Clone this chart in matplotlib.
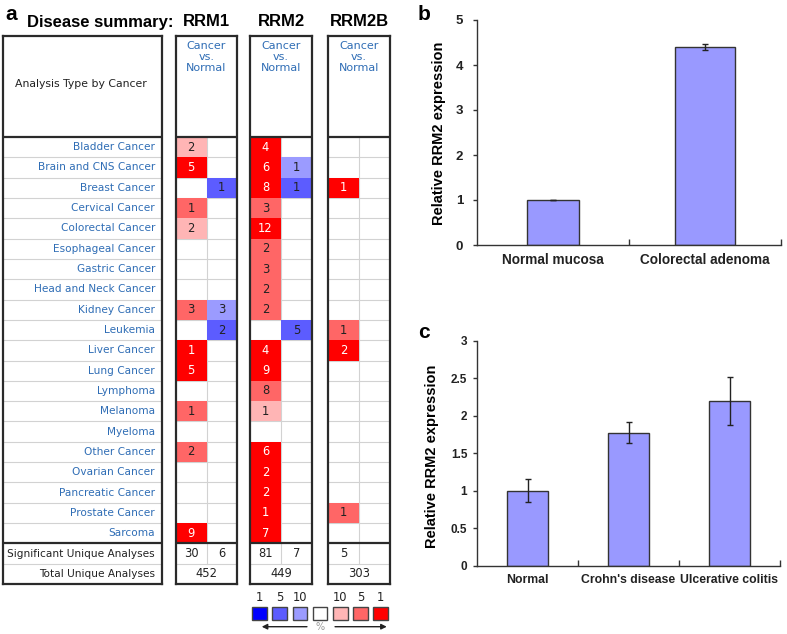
import matplotlib
matplotlib.use("Agg")
import matplotlib.pyplot as plt
from matplotlib.patches import Rectangle

# ---------------- data ----------------
cancers = ["Bladder Cancer", "Brain and CNS Cancer", "Breast Cancer", "Cervical Cancer",
           "Colorectal Cancer", "Esophageal Cancer", "Gastric Cancer", "Head and Neck Cancer",
           "Kidney Cancer", "Leukemia", "Liver Cancer", "Lung Cancer", "Lymphoma", "Melanoma",
           "Myeloma", "Other Cancer", "Ovarian Cancer", "Pancreatic Cancer", "Prostate Cancer",
           "Sarcoma"]
genes = ["RRM1", "RRM2", "RRM2B"]

# number of analyses (0 = none) and gene rank percentile (1, 5, 10) per cancer
rrm1_up = [2, 5, 0, 1, 2, 0, 0, 0, 3, 0, 1, 5, 0, 1, 0, 2, 0, 0, 0, 9]
rrm1_up_rank = [10, 1, 0, 5, 10, 0, 0, 0, 5, 0, 1, 1, 0, 5, 0, 5, 0, 0, 0, 1]
rrm1_down = [0, 0, 1, 0, 0, 0, 0, 0, 3, 2, 0, 0, 0, 0, 0, 0, 0, 0, 0, 0]
rrm1_down_rank = [0, 0, 5, 0, 0, 0, 0, 0, 10, 5, 0, 0, 0, 0, 0, 0, 0, 0, 0, 0]

rrm2_up = [4, 6, 8, 3, 12, 2, 3, 2, 2, 0, 4, 9, 8, 1, 0, 6, 2, 2, 1, 7]
rrm2_up_rank = [1, 1, 1, 5, 1, 5, 5, 5, 5, 0, 1, 1, 5, 10, 0, 1, 1, 1, 1, 1]
rrm2_down = [0, 1, 1, 0, 0, 0, 0, 0, 0, 5, 0, 0, 0, 0, 0, 0, 0, 0, 0, 0]
rrm2_down_rank = [0, 10, 5, 0, 0, 0, 0, 0, 0, 5, 0, 0, 0, 0, 0, 0, 0, 0, 0, 0]

rrm2b_up = [0, 0, 1, 0, 0, 0, 0, 0, 0, 1, 2, 0, 0, 0, 0, 0, 0, 0, 1, 0]
rrm2b_up_rank = [0, 0, 1, 0, 0, 0, 0, 0, 0, 5, 1, 0, 0, 0, 0, 0, 0, 0, 5, 0]
rrm2b_down = [0] * 20
rrm2b_down_rank = [0] * 20

sig_up = [30, 81, 5]
sig_down = [6, 7, None]
total_analyses = [452, 449, 303]

legend_ranks = ["1", "5", "10", "", "10", "5", "1"]

b_categories = ["Normal mucosa", "Colorectal adenoma"]
b_values = [1.0, 4.40]
b_errors = [0.01, 0.06]

c_categories = ["Normal", "Crohn's disease", "Ulcerative colitis"]
c_values = [1.0, 1.77, 2.19]
c_errors = [0.15, 0.14, 0.32]

# ---------------- styles ----------------
W, H = 787, 634
fig = plt.figure(figsize=(W / 100, H / 100), dpi=100)
plt.rcParams["font.family"] = ["DejaVu Sans"]

UP_COL = {1: "#ff0000", 5: "#ff6666", 10: "#ffb5b5"}
DN_COL = {1: "#0000ff", 5: "#5c5cff", 10: "#9b9bff"}
BLUE_TXT = "#2f6db5"
DARK = "#2a2a2a"
GRID = "#d2d2d2"
BOLD = dict(family="Liberation Sans", weight="bold")
LFS = 7.6   # label font size
NFS = 8.3   # number font size


def px_axes(x0, y0, x1, y1):
    return fig.add_axes([x0 / W, 1 - y1 / H, (x1 - x0) / W, (y1 - y0) / H])


ROW_TOP, ROW_BOT, HDR_TOP, NROWS = 137, 584, 36, 22
unit = (ROW_BOT - ROW_TOP) / NROWS


def py2row(y):
    return (y - ROW_TOP) / unit


def setup_table(ax, xmax):
    ax.set_xlim(0, xmax)
    ax.set_ylim(NROWS, py2row(HDR_TOP))
    ax.set_xticks([])
    ax.set_yticks([])
    for s in ax.spines.values():
        s.set_linewidth(1.6)
        s.set_color(DARK)
    ax.axhline(0, color=DARK, lw=1.6, zorder=3)
    ax.axhline(20, color=DARK, lw=1.6, zorder=3)
    for r in list(range(1, 20)) + [21]:
        ax.axhline(r, color=GRID, lw=0.8, zorder=0)


# ---------------- panel a ----------------
fig.text(5 / W, 1 - 15 / H, "a", fontsize=15, va="center", ha="left", **BOLD)
fig.text(27 / W, 1 - 22 / H, "Disease summary:", fontsize=12, va="center", ha="left", **BOLD)
gene_x = [(176, 237), (250, 312), (328, 390)]
for g, (x0, x1) in zip(genes, gene_x):
    fig.text((x0 + x1) / 2 / W, 1 - 22 / H, g, fontsize=12, va="center", ha="center", **BOLD)

# label column
axl = px_axes(3, HDR_TOP, 162, ROW_BOT)
setup_table(axl, 159)
axl.text(78, py2row(84), "Analysis Type by Cancer", fontsize=7.8, ha="center", va="center", color="#222")
for i, name in enumerate(cancers):
    axl.text(152, i + 0.5, name, fontsize=LFS, ha="right", va="center", color=BLUE_TXT)
axl.text(152, 20.5, "Significant Unique Analyses", fontsize=LFS, ha="right", va="center", color="#222")
axl.text(152, 21.5, "Total Unique Analyses", fontsize=LFS, ha="right", va="center", color="#222")

gene_data = [
    (rrm1_up, rrm1_up_rank, rrm1_down, rrm1_down_rank),
    (rrm2_up, rrm2_up_rank, rrm2_down, rrm2_down_rank),
    (rrm2b_up, rrm2b_up_rank, rrm2b_down, rrm2b_down_rank),
]
for gi, ((x0, x1), (up, upr, dn, dnr)) in enumerate(zip(gene_x, gene_data)):
    ax = px_axes(x0, HDR_TOP, x1, ROW_BOT)
    setup_table(ax, 2)
    ax.plot([1, 1], [0, 21], color=GRID, lw=0.8, zorder=0)
    for j, txt in enumerate(["Cancer", "vs.", "Normal"]):
        ax.text(1, py2row(46 + 11 * j), txt, fontsize=8, ha="center", va="center", color=BLUE_TXT)
    for col, counts, ranks, cmap in [(0, up, upr, UP_COL), (1, dn, dnr, DN_COL)]:
        for i, (n, rk) in enumerate(zip(counts, ranks)):
            if n:
                ax.add_patch(Rectangle((col, i), 1, 1, facecolor=cmap[rk], edgecolor="none", zorder=1))
                ax.text(col + 0.5, i + 0.5, str(n), fontsize=NFS, ha="center", va="center",
                        color="white" if rk == 1 else "#222", zorder=2)
    ax.text(0.5, 20.5, str(sig_up[gi]), fontsize=NFS, ha="center", va="center", color="#222")
    if sig_down[gi] is not None:
        ax.text(1.5, 20.5, str(sig_down[gi]), fontsize=NFS, ha="center", va="center", color="#222")
    ax.text(1, 21.5, str(total_analyses[gi]), fontsize=NFS, ha="center", va="center", color="#222")

# legend
axg = px_axes(249.4, 590, 390.8, 634)
axg.set_xlim(-0.5, 6.5)
axg.set_ylim(634, 590)
axg.axis("off")
leg_colors = [DN_COL[1], DN_COL[5], DN_COL[10], "white", UP_COL[10], UP_COL[5], UP_COL[1]]
for i, (c, lab) in enumerate(zip(leg_colors, legend_ranks)):
    axg.add_patch(Rectangle((i - 0.36, 606.5), 0.72, 13, facecolor=c, edgecolor="#444", lw=1))
    axg.text(i, 597.5, lab, fontsize=NFS, ha="center", va="center", color="#222")
axg.annotate("", xy=(0.11, 626.7), xytext=(2.35, 626.7),
             arrowprops=dict(arrowstyle="-|>", color="#222", lw=1, mutation_scale=8, shrinkA=0, shrinkB=0))
axg.annotate("", xy=(6.3, 626.7), xytext=(3.74, 626.7),
             arrowprops=dict(arrowstyle="-|>", color="#222", lw=1, mutation_scale=8, shrinkA=0, shrinkB=0))
axg.text(3, 627, "%", fontsize=7, ha="center", va="center", color="#999")


# ---------------- panels b and c ----------------
def bar_panel(ax, cats, vals, errs, ymax, ystep, widths, tfs, xfs, pad_y, ytick_fmt):
    x = list(range(len(cats)))
    ax.bar(x, vals, width=widths, color="#9999ff", edgecolor="#333", linewidth=1, zorder=2)
    ax.errorbar(x, vals, yerr=errs, fmt="none", ecolor="#222", elinewidth=1, capsize=2.2,
                capthick=1, zorder=3)
    ax.set_xlim(-0.5, len(cats) - 0.5)
    ax.set_ylim(0, ymax)
    ticks = [k * ystep for k in range(int(round(ymax / ystep)) + 1)]
    ax.set_yticks(ticks)
    ax.set_yticklabels([ytick_fmt(t) for t in ticks])
    ax.set_xticks(x)
    ax.set_xticklabels(cats)
    ax.set_xticks([k + 0.5 for k in x], minor=True)
    ax.tick_params(axis="x", which="major", length=0, pad=6)
    ax.tick_params(axis="x", which="minor", direction="in", length=4, width=1, color="#333")
    ax.tick_params(axis="y", direction="out", length=3, width=1, color="#333", pad=pad_y)
    for s in ["top", "right"]:
        ax.spines[s].set_visible(False)
    for s in ["left", "bottom"]:
        ax.spines[s].set_color("#333")
        ax.spines[s].set_linewidth(1)
    for lab in ax.get_xticklabels():
        lab.set_fontfamily("Liberation Sans")
        lab.set_fontweight("bold")
        lab.set_fontsize(xfs)
        lab.set_color("#222")
    for lab in ax.get_yticklabels():
        lab.set_fontfamily("Liberation Sans")
        lab.set_fontweight("bold")
        lab.set_fontsize(tfs)
        lab.set_color("#222")


def fmt_b(t):
    return f"{t:g}"


axb = px_axes(477, 20, 781, 245)
bar_panel(axb, b_categories, b_values, b_errors, 5, 1, [0.34, 0.40], 9.5, 9.8, 7, fmt_b)
fig.text(439 / W, 1 - 133 / H, "Relative RRM2 expression", rotation=90, fontsize=10.5,
         ha="center", va="center", **BOLD)
fig.text(418 / W, 1 - 14 / H, "b", fontsize=15, ha="left", va="center", **BOLD)

axc = px_axes(477, 340.7, 780, 565.7)
bar_panel(axc, c_categories, c_values, c_errors, 3, 0.5, 0.41, 8.5, 8.8, 4, fmt_b)
fig.text(432 / W, 1 - 456 / H, "Relative RRM2 expression", rotation=90, fontsize=10.5,
         ha="center", va="center", **BOLD)
fig.text(418 / W, 1 - 333 / H, "c", fontsize=15, ha="left", va="center", **BOLD)

fig.savefig("out.png", dpi=100)
